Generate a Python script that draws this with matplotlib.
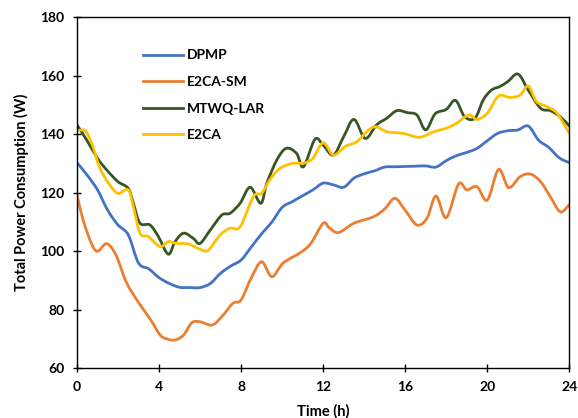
import matplotlib
matplotlib.use("Agg")
import matplotlib.pyplot as plt
from matplotlib.path import Path
from matplotlib.patches import PathPatch
from matplotlib.lines import Line2D

# DPMP
t_dpmp = [0, 0.5, 1, 1.5, 2, 2.5, 3, 3.5, 4, 4.5, 5, 5.5, 6, 6.5, 7, 7.5, 8, 8.5, 9, 9.5,
          10, 10.5, 11, 11.5, 12, 12.5, 13, 13.5, 14, 14.5, 15, 15.5, 16, 16.5, 17, 17.5,
          18, 18.5, 19, 19.5, 20, 20.5, 21, 21.5, 22, 22.5, 23, 23.5, 24]
v_dpmp = [130.3, 126, 121, 114, 109, 105.6, 96, 94, 91, 89, 87.7, 87.6, 87.6, 89, 92.5, 95,
          97, 101.5, 106, 110, 115, 117, 119, 121, 123.3, 122.7, 121.9, 125, 126.5, 127.5,
          128.8, 128.9, 129, 129.1, 129.2, 128.8, 131, 132.7, 133.8, 135.2, 137.8, 140.3,
          141.2, 141.5, 142.8, 138, 135.5, 132, 130.3]

# E2CA-SM
t_sm = [0, 0.3, 0.7, 1.0, 1.45, 1.9, 2.4, 3.0, 3.6, 4.05, 4.4, 4.8, 5.2, 5.6, 6.0, 6.6,
        7.1, 7.6, 8.0, 8.5, 9.0, 9.5, 10.05, 10.9, 11.4, 12.0, 12.3, 12.75, 13.5, 14.45,
        15.0, 15.5, 16.0, 16.57, 17.06, 17.5, 18.0, 18.6, 19.0, 19.5, 20.0, 20.55, 21.04,
        21.6, 22.1, 22.6, 23.07, 23.56, 24]
v_sm = [119.3, 110.7, 102.7, 100, 102.6, 98.7, 89.5, 82.5, 76.5, 71.4, 70, 69.7, 71.4,
        75.6, 75.9, 74.8, 78, 82.2, 83.4, 91, 96.4, 91.3, 96, 99.6, 102.7, 109.6, 108,
        106.4, 109.6, 111.8, 114.5, 118.1, 114, 109, 111.3, 118.9, 111.5, 123, 121, 122.1,
        117.5, 128, 121.8, 125.5, 126.4, 123.8, 118.7, 113.5, 116]

# MTWQ-LAR
t_mt = [0, 0.47, 1.0, 1.45, 2.0, 2.5, 2.75, 3.07, 3.56, 3.97, 4.45, 4.78, 5.2, 5.67, 6.0,
        6.5, 7.06, 7.46, 7.95, 8.44, 8.96, 9.25, 9.74, 10.2, 10.7, 11.04, 11.6, 12.0, 12.5,
        13.0, 13.5, 14.05, 14.6, 15.1, 15.6, 16.1, 16.57, 17.0, 17.46, 18.0, 18.45, 18.9,
        19.4, 19.8, 20.2, 20.6, 21.0, 21.5, 22.0, 22.6, 23.07, 23.56, 24]
v_mt = [143.2, 138.1, 131.8, 127.8, 123.8, 121.5, 116.4, 109.6, 109.0, 105.0, 99.0, 103.3,
        106.2, 104.4, 102.7, 107.3, 112.4, 113.0, 116.4, 121.9, 116.4, 123.2, 131.2, 135.2,
        133.5, 128.9, 138.3, 136.3, 132.9, 139.2, 145.1, 138.6, 143.2, 145.5, 148.1, 147.4,
        146.6, 141.5, 147.0, 148.5, 151.6, 146.0, 145.5, 151.7, 155.1, 156.3, 158.0, 160.6,
        155.1, 148.9, 148.1, 146.0, 142.8]

# E2CA
t_e2 = [0, 0.4, 0.72, 1.12, 1.6, 2.0, 2.5, 2.75, 3.07, 3.48, 4.05, 4.45, 4.86, 5.43, 6.0,
        6.4, 6.98, 7.46, 7.95, 8.6, 9.0, 9.4, 9.9, 10.55, 11.04, 11.5, 12.0, 12.5, 13.07,
        13.64, 14.13, 14.54, 15.1, 15.9, 16.7, 17.4, 18.0, 18.5, 19.1, 19.5, 20.0, 20.55,
        21.1, 21.6, 22.0, 22.4, 22.9, 23.4, 24]
v_e2 = [141.2, 141.2, 136.9, 128.4, 122.7, 119.8, 121.0, 115.2, 106.2, 105.0, 101.6, 103.3,
        102.7, 102.5, 100.7, 100.4, 105.6, 107.9, 108.4, 118.7, 119.8, 124.4, 128.4, 130.1,
        130.1, 131.8, 137.1, 132.9, 135.8, 137.5, 140.9, 142.6, 140.9, 140.3, 139.0, 140.9,
        142.1, 143.8, 146.6, 145.1, 147.2, 153.1, 152.6, 153.4, 156.5, 151.2, 149.5, 147.2,
        140.3]

series_names = ['DPMP', 'E2CA-SM', 'MTWQ-LAR', 'E2CA']
series_colors = ['#4472C4', '#ED7D31', '#375623', '#FFC000']

x_ticks = [0, 4, 8, 12, 16, 20, 24]
y_ticks = [60, 80, 100, 120, 140, 160, 180]


def smooth_path(xs, ys, k=1.0 / 6.0):
    """Catmull-Rom style cubic Bezier path through the data points."""
    n = len(xs)
    verts = [(xs[0], ys[0])]
    codes = [Path.MOVETO]
    for i in range(n - 1):
        i0 = max(i - 1, 0)
        i3 = min(i + 2, n - 1)
        c1 = (xs[i] + (xs[i + 1] - xs[i0]) * k, ys[i] + (ys[i + 1] - ys[i0]) * k)
        c2 = (xs[i + 1] - (xs[i3] - xs[i]) * k, ys[i + 1] - (ys[i3] - ys[i]) * k)
        verts += [c1, c2, (xs[i + 1], ys[i + 1])]
        codes += [Path.CURVE4] * 3
    return Path(verts, codes)


plt.rcParams['font.family'] = ['Lato', 'DejaVu Sans']

fig = plt.figure(figsize=(5.78, 4.18), dpi=100)
ax = fig.add_axes([0.1332, 0.1189, 0.8518, 0.8397])

lw = 2.0
data = [(t_dpmp, v_dpmp), (t_sm, v_sm), (t_mt, v_mt), (t_e2, v_e2)]
handles = []
for (xs, ys), name, col in zip(data, series_names, series_colors):
    patch = PathPatch(smooth_path(xs, ys), facecolor='none', edgecolor=col, lw=lw,
                      capstyle='round', joinstyle='round')
    ax.add_patch(patch)
    handles.append(Line2D([], [], color=col, lw=lw, label=name))

ax.set_xlim(0, 24)
ax.set_ylim(60, 180)
ax.set_xticks(x_ticks)
ax.set_yticks(y_ticks)
ax.tick_params(direction='inout', length=6, width=1, labelsize=10)
ax.tick_params(axis='y', pad=6)
ax.tick_params(axis='x', pad=6)
for lab in ax.get_xticklabels() + ax.get_yticklabels():
    lab.set_fontweight('bold')
for s in ax.spines.values():
    s.set_linewidth(1.0)

ax.set_xlabel('Time (h)', fontsize=10.5, fontweight='bold', labelpad=8)
ax.set_ylabel('Total Power Consumption (W)', fontsize=10.5, fontweight='bold', labelpad=8)

leg = ax.legend(handles=handles, loc='upper left', bbox_to_anchor=(0.108, 0.944), frameon=False,
                handlelength=2.9, labelspacing=1.05, handletextpad=0.3,
                prop={'weight': 'bold', 'size': 10})

fig.savefig('out.png', dpi=100)
